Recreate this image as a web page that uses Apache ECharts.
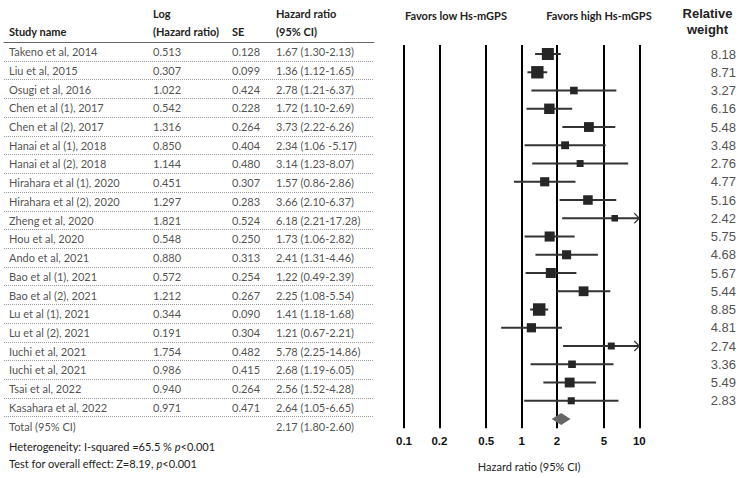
<!DOCTYPE html>
<html><head><meta charset="utf-8">
<script src="https://cdn.jsdelivr.net/npm/echarts@6/dist/echarts.min.js"></script>
<style>html,body{margin:0;padding:0;background:#fff}#c{width:742px;height:478px}</style>
</head><body><div id="c"></div>
<script>
// ---------- DATA ----------
const studies = ['Takeno et al, 2014','Liu et al, 2015','Osugi et al, 2016','Chen et al (1), 2017','Chen et al (2), 2017','Hanai et al (1), 2018','Hanai et al (2), 2018','Hirahara et al (1), 2020','Hirahara et al (2), 2020','Zheng et al, 2020','Hou et al, 2020','Ando et al, 2021','Bao et al (1), 2021','Bao et al (2), 2021','Lu et al (1), 2021','Lu et al (2), 2021','Iuchi et al, 2021','Iuchi et al, 2021','Tsai et al, 2022','Kasahara et al, 2022'];
const logHR = ['0.513','0.307','1.022','0.542','1.316','0.850','1.144','0.451','1.297','1.821','0.548','0.880','0.572','1.212','0.344','0.191','1.754','0.986','0.940','0.971'];
const seVals = ['0.128','0.099','0.424','0.228','0.264','0.404','0.480','0.307','0.283','0.524','0.250','0.313','0.254','0.267','0.090','0.304','0.482','0.415','0.264','0.471'];
const hrCI = ['1.67 (1.30-2.13)','1.36 (1.12-1.65)','2.78 (1.21-6.37)','1.72 (1.10-2.69)','3.73 (2.22-6.26)','2.34 (1.06 -5.17)','3.14 (1.23-8.07)','1.57 (0.86-2.86)','3.66 (2.10-6.37)','6.18 (2.21-17.28)','1.73 (1.06-2.82)','2.41 (1.31-4.46)','1.22 (0.49-2.39)','2.25 (1.08-5.54)','1.41 (1.18-1.68)','1.21 (0.67-2.21)','5.78 (2.25-14.86)','2.68 (1.19-6.05)','2.56 (1.52-4.28)','2.64 (1.05-6.65)'];
const totalRow = ['Total (95% CI)', '2.17 (1.80-2.60)'];
// plotted estimates
const plotHR = [1.67,1.36,2.78,1.72,3.73,2.34,3.14,1.57,3.66,6.18,1.73,2.41,1.77,3.36,1.41,1.21,5.78,2.68,2.56,2.64];
const plotLo = [1.30,1.12,1.21,1.10,2.22,1.06,1.23,0.86,2.10,2.21,1.06,1.31,1.08,1.99,1.18,0.67,2.25,1.19,1.53,1.05];
const plotHi = [2.15,1.65,6.38,2.69,6.25,5.17,8.04,2.87,6.37,17.25,2.82,4.45,2.92,5.67,1.68,2.20,14.87,6.04,4.29,6.65];
const weights = ['8.18','8.71','3.27','6.16','5.48','3.48','2.76','4.77','5.16','2.42','5.75','4.68','5.67','5.44','8.85','4.81','2.74','3.36','5.49','2.83'];
const pooled = [1.80, 2.17, 2.60];
const tickValues = [0.1,0.2,0.5,1,2,5,10];
const tickLabels = ['0.1','0.2','0.5','1','2','5','10'];

// ---------- LAYOUT ----------
const X_MIN = 0.1, X_MAX = 10;
const TABLE_TOP = 42.3, ROW_H = 18.72, NROWS = studies.length;
const PLOT_TOP = 44.9, PLOT_ROW = 18.25;
const TXT = 'Lato';
const TXT_SIZE = 11;
const INK = '#222';

const chart = echarts.init(document.getElementById('c'), null, {renderer:'svg', width:742, height:478});

const grids = [], xAxes = [], yAxes = [], series = [];
function addGrid(g, xa, ya) {
  grids.push(Object.assign({outerBoundsMode:'none', containLabel:false}, g));
  const gi = grids.length - 1;
  xAxes.push(Object.assign({gridIndex: gi}, xa));
  yAxes.push(Object.assign({gridIndex: gi}, ya));
  return gi;
}
const hiddenX = {type:'value', min:0, max:1, show:false};
const tableY = {type:'value', min:0, max:NROWS, inverse:true, show:false};
const plotY = {type:'value', min:-0.5, max:NROWS + 0.5, inverse:true, show:false};

// table separators grid
addGrid({left:4, width:370, top:TABLE_TOP, height:ROW_H*NROWS},
  {type:'value', min:0, max:1, position:'top', axisLine:{show:true, onZero:false, lineStyle:{color:'#666', width:1}}, axisTick:{show:false}, axisLabel:{show:false}, splitLine:{show:false}},
  {type:'value', min:0, max:NROWS, interval:1, inverse:true, axisLine:{show:false}, axisTick:{show:false}, axisLabel:{show:false},
   splitLine:{show:true, lineStyle:{color:'#9a9a9a', width:1, type:[1,1]}}});

function textColumn(left, texts, extra) {
  const gi = addGrid({left:left, width:10, top:TABLE_TOP, height:ROW_H*NROWS}, hiddenX, tableY);
  const data = texts.map((t,i)=>[0, i+0.5, t]);
  if (extra) data.push([0, NROWS + 0.5, extra]);
  series.push({type:'scatter', xAxisIndex:gi, yAxisIndex:gi, symbolSize:0, silent:true, clip:false, data,
    label:{show:true, position:'right', distance:0, formatter:p=>p.data[2], fontFamily:TXT, fontSize:TXT_SIZE, color:INK}});
}
textColumn(9, studies, totalRow[0]);
textColumn(153, logHR);
textColumn(232, seVals);
textColumn(276, hrCI, totalRow[1]);

// forest plot grid
const pg = addGrid({left:404, width:235.3, top:PLOT_TOP, height:PLOT_ROW*(NROWS+1)},
  {type:'log', logBase:10, min:X_MIN, max:X_MAX,
   axisLine:{show:false}, axisTick:{show:false}, splitLine:{show:false}, minorTick:{show:false},
   axisLabel:{show:true, customValues:tickValues, margin:7,
     formatter:(v)=>{ let best=0; tickValues.forEach((t,i)=>{ if (Math.abs(Math.log(t)-Math.log(v)) < Math.abs(Math.log(tickValues[best])-Math.log(v))) best=i; }); return tickLabels[best]; },
     fontFamily:'Liberation Sans', fontWeight:'bold', fontSize:11.5, color:'#111'},
   name:'Hazard ratio (95% CI)', nameLocation:'middle', nameGap:33,
   nameTextStyle:{fontFamily:TXT, fontSize:TXT_SIZE, color:INK, padding:[0,0,0,15]}},
  plotY);

// vertical reference lines
series.push({type:'scatter', xAxisIndex:pg, yAxisIndex:pg, data:[], silent:true, z:1,
  markLine:{silent:true, z:1, symbol:['none','none'], animation:false, label:{show:false},
    lineStyle:{color:'#000', width:2, type:'solid'},
    data: tickValues.map(v=>({xAxis:v}))}});

// studies: CI lines + weighted squares
series.push({type:'custom', xAxisIndex:pg, yAxisIndex:pg, z:3, silent:true,
  data: plotHR.map((h,i)=>[plotLo[i], plotHi[i], h, i, parseFloat(weights[i])]),
  encode:{x:[0,1,2], y:3},
  renderItem:(params, api)=>{
    const lo=api.value(0), hi=api.value(1), hr=api.value(2), row=api.value(3), w=api.value(4);
    const a = api.coord([Math.max(lo, X_MIN), row]);
    const b = api.coord([Math.min(hi, X_MAX), row]);
    const c = api.coord([hr, row]);
    const s = 4.2*Math.sqrt(w);
    const ch = [
      {type:'line', shape:{x1:a[0], y1:a[1], x2:b[0], y2:b[1]}, style:{stroke:'#333', lineWidth:2}},
      {type:'rect', shape:{x:c[0]-s/2, y:c[1]-s/2, width:s, height:s}, style:{fill:'#262626'}}
    ];
    if (hi > X_MAX) ch.push({type:'polyline', shape:{points:[[b[0]-5,b[1]-5],[b[0],b[1]],[b[0]-5,b[1]+5]]}, style:{stroke:'#333', lineWidth:1.2, fill:null}});
    return {type:'group', children:ch};
  }});

// pooled diamond
series.push({type:'custom', xAxisIndex:pg, yAxisIndex:pg, z:3, silent:true,
  data:[[pooled[0], pooled[2], pooled[1], NROWS]],
  encode:{x:[0,1,2], y:3},
  renderItem:(params, api)=>{
    const row=api.value(3);
    const l=api.coord([api.value(0),row]), r=api.coord([api.value(1),row]), m=api.coord([api.value(2),row]);
    return {type:'polygon', shape:{points:[[l[0],l[1]],[m[0],m[1]-6],[r[0],r[1]],[m[0],m[1]+6]]}, style:{fill:'#666'}};
  }});

// relative weight column
const wg = addGrid({left:690, width:46, top:PLOT_TOP, height:PLOT_ROW*(NROWS+1)}, hiddenX, plotY);
series.push({type:'scatter', xAxisIndex:wg, yAxisIndex:wg, symbolSize:0, silent:true, clip:false,
  data: weights.map((w,i)=>[1, i, w]),
  label:{show:true, position:'left', distance:0, formatter:p=>p.data[2], fontFamily:'Liberation Sans', fontSize:13, color:'#222'}});

function txt(x, y, text, opt) {
  return {type:'text', x, y, silent:true, style:Object.assign({text, fill:INK, fontFamily:TXT, fontSize:TXT_SIZE, align:'left', verticalAlign:'middle'}, opt||{})};
}
const B = {fontWeight:'bold'};
const graphic = [
  txt(153, 13, 'Log', B),
  txt(9, 31, 'Study name', B),
  txt(153, 31, '(Hazard ratio)', B),
  txt(232, 31, 'SE', B),
  txt(276, 13, 'Hazard ratio', B),
  txt(276, 31, '(95% CI)', B),
  txt(456, 15, 'Favors low Hs-mGPS', {fontWeight:'bold', align:'center'}),
  txt(599, 15, 'Favors high Hs-mGPS', {fontWeight:'bold', align:'center'}),
  txt(707.5, 13, 'Relative', {fontWeight:'bold', align:'center', fontFamily:'Liberation Sans', fontSize:13}),
  txt(707.5, 29, 'weight', {fontWeight:'bold', align:'center', fontFamily:'Liberation Sans', fontSize:13}),
  txt(9, 446, 'Heterogeneity: I-squared =65.5 % {i|p}<0.001', {rich:{i:{fontStyle:'italic', fontFamily:TXT, fontSize:TXT_SIZE, fill:INK}}}),
  txt(9, 463.5, 'Test for overall effect: Z=8.19, {i|p}<0.001', {rich:{i:{fontStyle:'italic', fontFamily:TXT, fontSize:TXT_SIZE, fill:INK}}})
];

chart.setOption({
  animation:false,
  backgroundColor:'#fff',
  grid:grids, xAxis:xAxes, yAxis:yAxes, series, graphic
});
</script></body></html>
